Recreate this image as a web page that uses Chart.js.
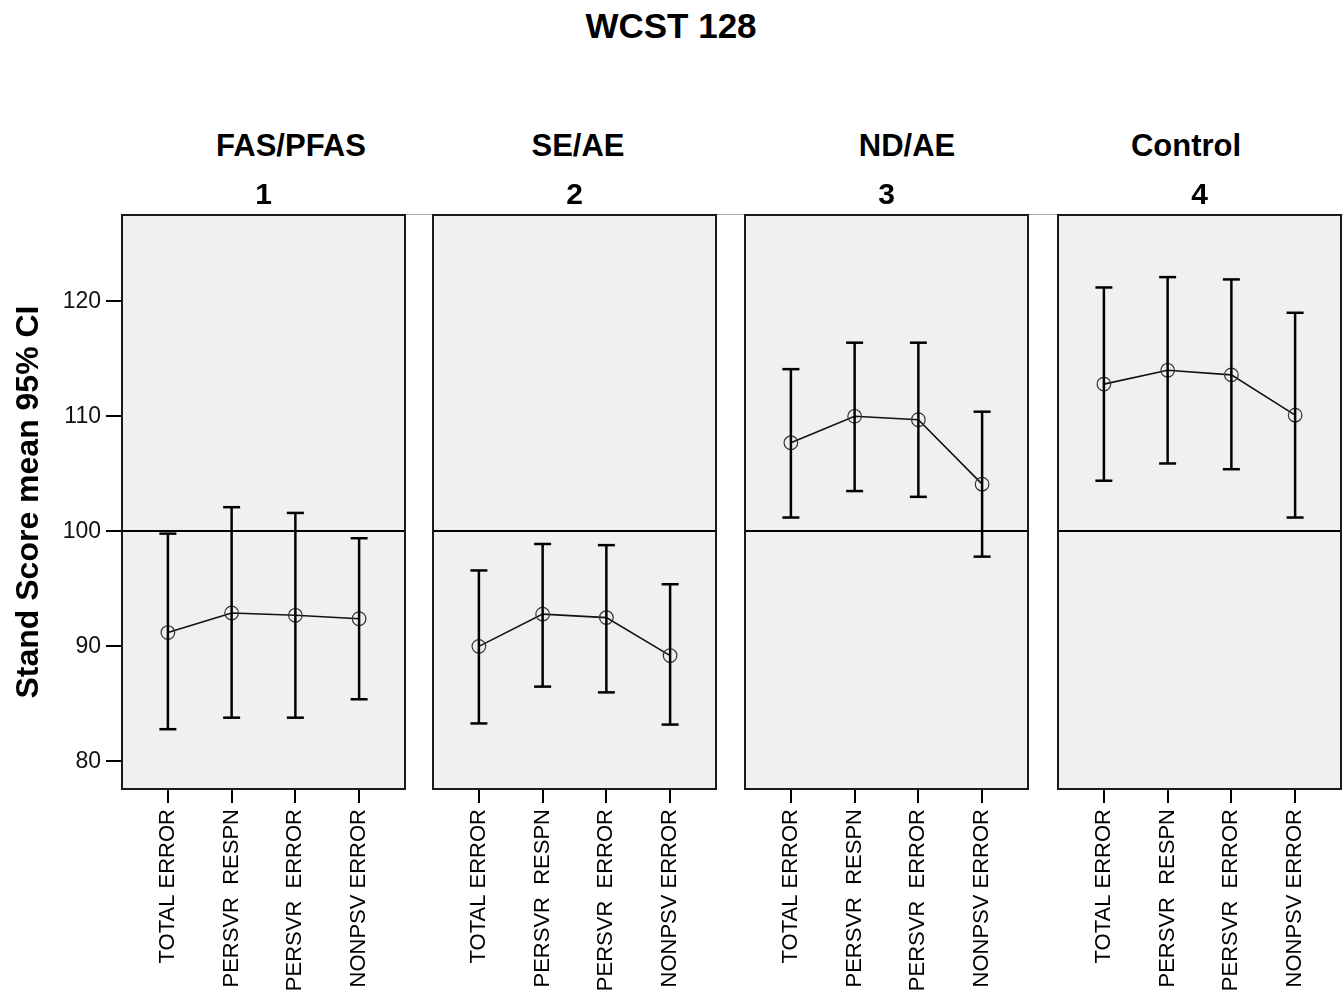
<!DOCTYPE html>
<html>
<head>
<meta charset="utf-8">
<title>WCST 128</title>
<script src="https://cdn.jsdelivr.net/npm/chart.js@4.4.1/dist/chart.umd.min.js"></script>
<style>
  html, body { margin: 0; padding: 0; background: #fff; }
  body {
    width: 1343px; height: 995px; position: relative; overflow: hidden;
    font-family: "Liberation Sans", Arial, sans-serif; color: #000;
  }
  .label {
    position: absolute; font-weight: bold; white-space: nowrap;
    transform: translate(-50%, -50%); line-height: 1;
  }
  #title { font-size: 35px; }
  .group { font-size: 31px; }
  .num { font-size: 30px; }
  .panel { position: absolute; top: 200px; height: 795px; }
  #topRule { position: absolute; left: 122px; top: 214px; width: 1221px; height: 1px; background: #a8a8a8; }
</style>
</head>
<body>
<div id="title" class="label" style="left:671px; top:25px">WCST 128</div>
<div id="topRule"></div>
<div id="charts"></div>

<script>
// --- data ---
const CATEGORIES = ['TOTAL ERROR', 'PERSVR  RESPN', 'PERSVR  ERROR', 'NONPSV ERROR'];
const GROUPS = ['FAS/PFAS', 'SE/AE', 'ND/AE', 'Control'];
const GROUP_NUMBERS = ['1', '2', '3', '4'];
const Y_TITLE = 'Stand Score mean 95% CI';
const Y_TICKS = [80, 90, 100, 110, 120];
const REFERENCE = 100;

const MEAN_FAS = [91.2, 92.9, 92.7, 92.4];
const LOW_FAS  = [82.8, 83.8, 83.8, 85.4];
const HIGH_FAS = [99.8, 102.1, 101.6, 99.4];

const MEAN_SE = [90.0, 92.8, 92.5, 89.2];
const LOW_SE  = [83.3, 86.5, 86.0, 83.2];
const HIGH_SE = [96.6, 98.9, 98.8, 95.4];

const MEAN_ND = [107.7, 110.0, 109.7, 104.1];
const LOW_ND  = [101.2, 103.5, 103.0, 97.8];
const HIGH_ND = [114.1, 116.4, 116.4, 110.4];

const MEAN_CTRL = [112.8, 114.0, 113.6, 110.1];
const LOW_CTRL  = [104.4, 105.9, 105.4, 101.2];
const HIGH_CTRL = [121.2, 122.1, 121.9, 119.0];

const SERIES = [
    [MEAN_FAS, LOW_FAS, HIGH_FAS],
    [MEAN_SE, LOW_SE, HIGH_SE],
    [MEAN_ND, LOW_ND, HIGH_ND],
    [MEAN_CTRL, LOW_CTRL, HIGH_CTRL]
];

// --- layout ---
const FONT = '"Liberation Sans", Arial, sans-serif';
const PANEL_LEFT = [122, 433, 745, 1058];
const PANEL_W = 283;
const NAME_X = [291, 578, 907, 1186];
const PAD = 6;
const Y_MIN = 77.6, Y_MAX = 127.5;
const X_MIN = -0.72, X_MAX = 3.72;

// gray panel with black frame
const panelFrame = {
    id: 'panelFrame',
    beforeDraw(chart) {
        const { ctx, chartArea: a } = chart;
        ctx.save();
        ctx.fillStyle = '#f0f0f0';
        ctx.fillRect(a.left, a.top, a.right - a.left, a.bottom - a.top);
        ctx.restore();
    },
    afterDraw(chart) {
        const { ctx, chartArea: a } = chart;
        ctx.save();
        ctx.strokeStyle = '#1a1a1a';
        ctx.lineWidth = 2;
        ctx.strokeRect(a.left, a.top, a.right - a.left, a.bottom - a.top);
        ctx.restore();
    }
};

function buildDatasets(means, low, high) {
    const bars = means.map((m, i) => ({
        data: [{ x: i, y: low[i] }, { x: i, y: high[i] }],
        borderColor: '#000',
        borderWidth: 2.5,
        pointStyle: 'line',
        pointRadius: 8.5,
        pointHoverRadius: 8.5,
        pointBorderColor: '#000',
        pointBorderWidth: 2.5
    }));
    const meanLine = {
        data: means.map((m, i) => ({ x: i, y: m })),
        borderColor: '#111',
        borderWidth: 1.6,
        pointStyle: 'circle',
        pointRadius: 6.8,
        pointHoverRadius: 6.8,
        pointBorderColor: '#333',
        pointBorderWidth: 1.2,
        pointBackgroundColor: 'rgba(0,0,0,0)'
    };
    return [...bars, meanLine];
}

const holder = document.getElementById('charts');

SERIES.forEach(([means, low, high], p) => {
    const first = p === 0;
    const left = first ? 0 : PANEL_LEFT[p] - PAD;
    const width = first ? PANEL_LEFT[0] + PANEL_W + PAD : PANEL_W + 2 * PAD;

    const name = document.createElement('div');
    name.className = 'label group';
    name.style.left = NAME_X[p] + 'px';
    name.style.top = '145px';
    name.textContent = GROUPS[p];
    document.body.appendChild(name);

    const num = document.createElement('div');
    num.className = 'label num';
    num.style.left = (PANEL_LEFT[p] + PANEL_W / 2) + 'px';
    num.style.top = '194px';
    num.textContent = GROUP_NUMBERS[p];
    document.body.appendChild(num);

    const box = document.createElement('div');
    box.className = 'panel';
    box.style.left = left + 'px';
    box.style.width = width + 'px';
    const canvas = document.createElement('canvas');
    box.appendChild(canvas);
    holder.appendChild(box);

    new Chart(canvas.getContext('2d'), {
        type: 'line',
        data: { datasets: buildDatasets(means, low, high) },
        plugins: [panelFrame],
        options: {
            responsive: true,
            maintainAspectRatio: false,
            animation: false,
            events: [],
            layout: { autoPadding: false, padding: { left: first ? 0 : PAD, right: PAD, top: 15, bottom: 0 } },
            plugins: { legend: { display: false }, tooltip: { enabled: false } },
            scales: {
                x: {
                    type: 'linear',
                    min: X_MIN,
                    max: X_MAX,
                    afterBuildTicks: (s) => { s.ticks = CATEGORIES.map((c, i) => ({ value: i })); },
                    afterFit: (s) => { s.height = 206; s.paddingLeft = 0; s.paddingRight = 0; },
                    border: { display: false },
                    grid: { drawOnChartArea: false, drawTicks: true, tickLength: 14, tickColor: '#000', lineWidth: 2 },
                    ticks: {
                        autoSkip: false, minRotation: 90, maxRotation: 90, padding: 6,
                        color: '#000', font: { family: FONT, size: 22 },
                        callback: (v) => CATEGORIES[v]
                    }
                },
                y: {
                    min: Y_MIN,
                    max: Y_MAX,
                    afterBuildTicks: (s) => { s.ticks = Y_TICKS.map((v) => ({ value: v })); },
                    afterFit: (s) => { s.width = first ? PANEL_LEFT[0] : 0; s.paddingTop = 0; s.paddingBottom = 0; },
                    border: { display: false },
                    grid: {
                        drawOnChartArea: true,
                        drawTicks: first,
                        tickLength: 16,
                        tickColor: '#000',
                        lineWidth: 2,
                        color: (c) => (c.tick && c.tick.value === REFERENCE ? '#000' : 'rgba(0,0,0,0)')
                    },
                    ticks: {
                        display: first, padding: 5,
                        color: '#111', font: { family: FONT, size: 23 }
                    },
                    title: {
                        display: first, text: Y_TITLE, color: '#000',
                        font: { family: FONT, size: 32, weight: 'bold' },
                        padding: { top: 10, bottom: 0 }
                    }
                }
            }
        }
    });
});
</script>
</body>
</html>
